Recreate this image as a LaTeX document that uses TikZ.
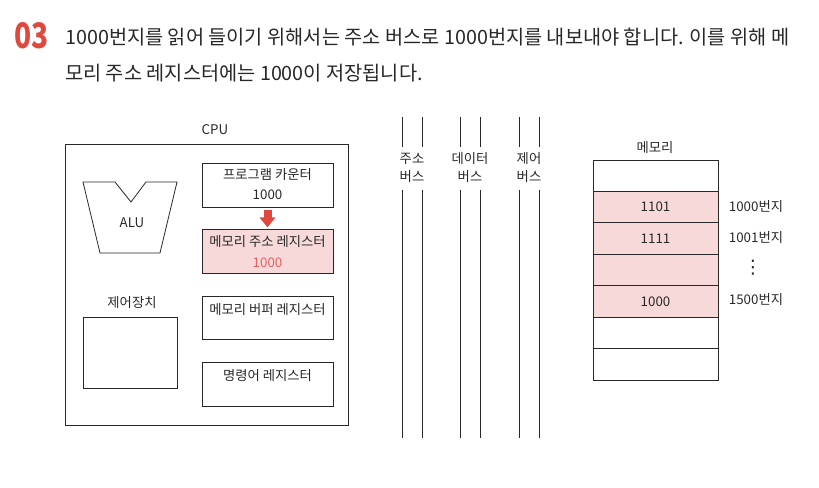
\documentclass[tikz,border=0pt]{standalone}
\usepackage{fontspec}
\setmainfont{Noto Sans CJK KR}
\newfontfamily\symfont{DejaVu Sans}
\usetikzlibrary{arrows.meta,positioning,calc}
\definecolor{inkgray}{RGB}{40,40,40}
\definecolor{regpink}{RGB}{247,217,217}
\definecolor{markred}{RGB}{222,72,62}
\definecolor{valred}{RGB}{229,96,96}

\begin{document}
\begin{tikzpicture}[x=0.75pt, y=-0.75pt, font=\fontsize{10}{12}\selectfont, color=inkgray,
    box/.style={draw=inkgray, line width=0.6pt, inner sep=0pt},
    regbox/.style={box, minimum width=98.25pt, minimum height=32.5pt},
    cellbox/.style={box, minimum width=93.75pt, minimum height=23.57pt},
    txt/.style={inner sep=0pt, text=inkgray},
    busline/.style={draw=inkgray, line width=0.6pt},
    fatarrow/.style={draw=markred, line width=6pt, -{Triangle[width=11.5pt, length=7.5pt]}, shorten <=1.5pt, shorten >=1.5pt}]
  \useasboundingbox (0,0) rectangle (819,488);

  % heading
  \node[txt, anchor=west, text=markred, font=\fontsize{24}{24}\selectfont\bfseries] (num) at (14,36) {\scalebox{0.88}[1.1]{03}};
  \node[txt, anchor=west, font=\fontsize{14.8}{17}\selectfont] (line1) at (65,37) {1000번지를 읽어 들이기 위해서는 주소 버스로 1000번지를 내보내야 합니다. 이를 위해 메};
  \node[txt, anchor=west, font=\fontsize{14.8}{17}\selectfont] (line2) at (65,73) {모리 주소 레지스터에는 1000이 저장됩니다.};

  % CPU
  \node[txt] (cpulbl) at (215,130) {CPU};
  \node[box, minimum width=212.25pt, minimum height=210.75pt] (cpu) at (206.5,284.5) {};

  \draw[box] (83,182) -- (115,182) -- (131,202) -- (146,182) -- (177,182) -- (160,253) -- (100,253) -- cycle;
  \node[txt] (alu) at (132,223) {ALU};

  \node[txt] (culbl) at (132,303) {제어장치};
  \node[box, minimum width=70.5pt, minimum height=53.25pt] (cu) at (130,352.5) {};

  \node[regbox] (pc) at (267.5,185.5) {};
  \node[txt] (pctxt) at (267.5,175) {프로그램 카운터};
  \node[txt] (pcval) at (267.5,195) {1000};

  \node[regbox, fill=regpink] (mar) at (267.5,251.5) {};
  \node[txt] (martxt) at (267.5,242) {메모리 주소 레지스터};
  \node[txt, text=valred] (marval) at (267.5,263) {1000};

  \node[regbox] (mbr) at (267.5,318) {};
  \node[txt] (mbrtxt) at (267.5,310) {메모리 버퍼 레지스터};

  \node[regbox] (ir) at (267.5,384.5) {};
  \node[txt] (irtxt) at (267.5,376) {명령어 레지스터};

  \draw[fatarrow] (pc) -- (mar);

  % buses
  \foreach \bx/\bname in {412/주소, 470/데이터, 529/제어} {
    \draw[busline] (\bx-10,117) -- (\bx-10,147) (\bx+10,117) -- (\bx+10,147);
    \draw[busline] (\bx-10,190) -- (\bx-10,438) (\bx+10,190) -- (\bx+10,438);
    \node[txt] at (\bx,159) {\bname};
    \node[txt] at (\bx,177) {버스};
  }

  % memory
  \node[txt] (memlbl) at (655,148) {메모리};
  \foreach \i in {0,...,6} {
    \ifnum\i>0 \ifnum\i<5
      \node[cellbox, fill=regpink] (m\i) at (655.5,{160+31.43*(\i+0.5)}) {};
    \else
      \node[cellbox] (m\i) at (655.5,{160+31.43*(\i+0.5)}) {};
    \fi\else
      \node[cellbox] (m\i) at (655.5,{160+31.43*(\i+0.5)}) {};
    \fi
  }
  \node[txt] (v1) at (m1) {1101};
  \node[txt] (v2) at (m2) {1111};
  \node[txt] (v4) at (m4) {1000};
  \node[txt] (a1) at (756,207) {1000번지};
  \node[txt] (a2) at (756,238) {1001번지};
  \node[txt, font=\symfont\fontsize{14}{14}\selectfont] (a3) at (753,268) {⋮};
  \node[txt] (a4) at (756,300) {1500번지};
\end{tikzpicture}
\end{document}
